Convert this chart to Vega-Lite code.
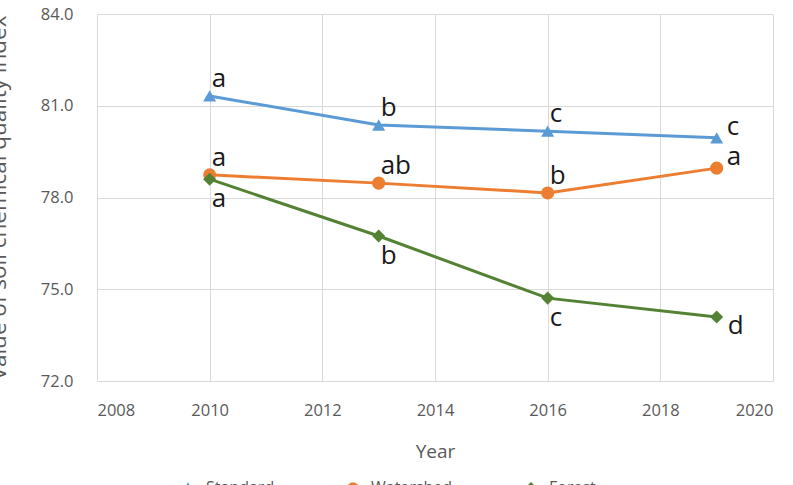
{
  "$schema": "https://vega.github.io/schema/vega-lite/v6.json",
  "width": 676,
  "height": 367,
  "autosize": "none",
  "padding": {"left": 97, "top": 14, "right": 20, "bottom": 104},
  "background": "white",
  "config": {
    "font": "Open Sans",
    "view": {"stroke": null},
    "axis": {
      "labelFont": "Open Sans",
      "titleFont": "Open Sans",
      "labelColor": "#595959",
      "titleColor": "#595959",
      "labelFontSize": 16.5,
      "titleFontWeight": "normal",
      "gridColor": "#D9D9D9",
      "gridWidth": 1,
      "domain": false,
      "ticks": false
    },
    "legend": {
      "labelFont": "Open Sans",
      "labelFontSize": 16,
      "labelColor": "#595959"
    }
  },
  "data": {
    "values": [
      {"series": "Standard", "year": 2010, "value": 81.32, "letter": "a"},
      {"series": "Standard", "year": 2013, "value": 80.37, "letter": "b"},
      {"series": "Standard", "year": 2016, "value": 80.17, "letter": "c"},
      {"series": "Standard", "year": 2019, "value": 79.95, "letter": "c"},
      {"series": "Watershed", "year": 2010, "value": 78.74, "letter": "a"},
      {"series": "Watershed", "year": 2013, "value": 78.47, "letter": "ab"},
      {"series": "Watershed", "year": 2016, "value": 78.15, "letter": "b"},
      {"series": "Watershed", "year": 2019, "value": 78.96, "letter": "a"},
      {"series": "Forest", "year": 2010, "value": 78.6, "letter": "a"},
      {"series": "Forest", "year": 2013, "value": 76.74, "letter": "b"},
      {"series": "Forest", "year": 2016, "value": 74.71, "letter": "c"},
      {"series": "Forest", "year": 2019, "value": 74.09, "letter": "d"}
    ]
  },
  "encoding": {
    "x": {
      "field": "year",
      "type": "quantitative",
      "scale": {"domain": [2008, 2020], "nice": false, "zero": false},
      "axis": {
        "values": [2008, 2010, 2012, 2014, 2016, 2018, 2020],
        "format": "d",
        "labelPadding": 21,
        "title": "Year",
        "titleFontSize": 19,
        "titleY": 61
      }
    },
    "y": {
      "field": "value",
      "type": "quantitative",
      "scale": {"domain": [72, 84], "nice": false, "zero": false},
      "axis": {
        "values": [72, 75, 78, 81, 84],
        "format": ".1f",
        "labelPadding": 24,
        "title": "Value of soil chemical quality index",
        "titleFontSize": 22.5,
        "titleX": -87
      }
    }
  },
  "layer": [
    {
      "mark": {"type": "line", "strokeWidth": 3},
      "encoding": {
        "color": {
          "field": "series",
          "type": "nominal",
          "scale": {
            "domain": ["Standard", "Watershed", "Forest"],
            "range": ["#5B9BD5", "#ED7D31", "#548235"]
          }
        }
      }
    },
    {
      "mark": {"type": "point", "filled": true, "opacity": 1, "size": 170},
      "encoding": {
        "color": {
          "field": "series",
          "type": "nominal",
          "scale": {
            "domain": ["Standard", "Watershed", "Forest"],
            "range": ["#5B9BD5", "#ED7D31", "#548235"]
          },
          "legend": {
            "title": null,
            "orient": "none",
            "direction": "horizontal",
            "legendX": 83,
            "legendY": 466,
            "columnPadding": 70,
            "symbolSize": 100,
            "labelOffset": 10
          }
        },
        "shape": {
          "field": "series",
          "type": "nominal",
          "scale": {
            "domain": ["Standard", "Watershed", "Forest"],
            "range": ["triangle-up", "circle", "diamond"]
          },
          "legend": {
            "title": null,
            "orient": "none",
            "direction": "horizontal",
            "legendX": 83,
            "legendY": 466,
            "columnPadding": 70,
            "symbolSize": 100,
            "labelOffset": 10
          }
        }
      }
    },
    {
      "transform": [{"filter": "datum.series !== 'Forest' && datum.year < 2019"}],
      "mark": {"type": "text", "align": "left", "baseline": "alphabetic", "dx": 2, "dy": -9, "fontSize": 26, "color": "#1a1a1a", "font": "Open Sans"},
      "encoding": {"text": {"field": "letter"}}
    },
    {
      "transform": [{"filter": "datum.series === 'Forest' && datum.year < 2019"}],
      "mark": {"type": "text", "align": "left", "baseline": "alphabetic", "dx": 2, "dy": 28, "fontSize": 26, "color": "#1a1a1a", "font": "Open Sans"},
      "encoding": {"text": {"field": "letter"}}
    },
    {
      "transform": [{"filter": "datum.series !== 'Forest' && datum.year === 2019"}],
      "mark": {"type": "text", "align": "left", "baseline": "alphabetic", "dx": 10, "dy": -3, "fontSize": 26, "color": "#1a1a1a", "font": "Open Sans"},
      "encoding": {"text": {"field": "letter"}}
    },
    {
      "transform": [{"filter": "datum.series === 'Forest' && datum.year === 2019"}],
      "mark": {"type": "text", "align": "left", "baseline": "alphabetic", "dx": 11, "dy": 17, "fontSize": 26, "color": "#1a1a1a", "font": "Open Sans"},
      "encoding": {"text": {"field": "letter"}}
    }
  ]
}
